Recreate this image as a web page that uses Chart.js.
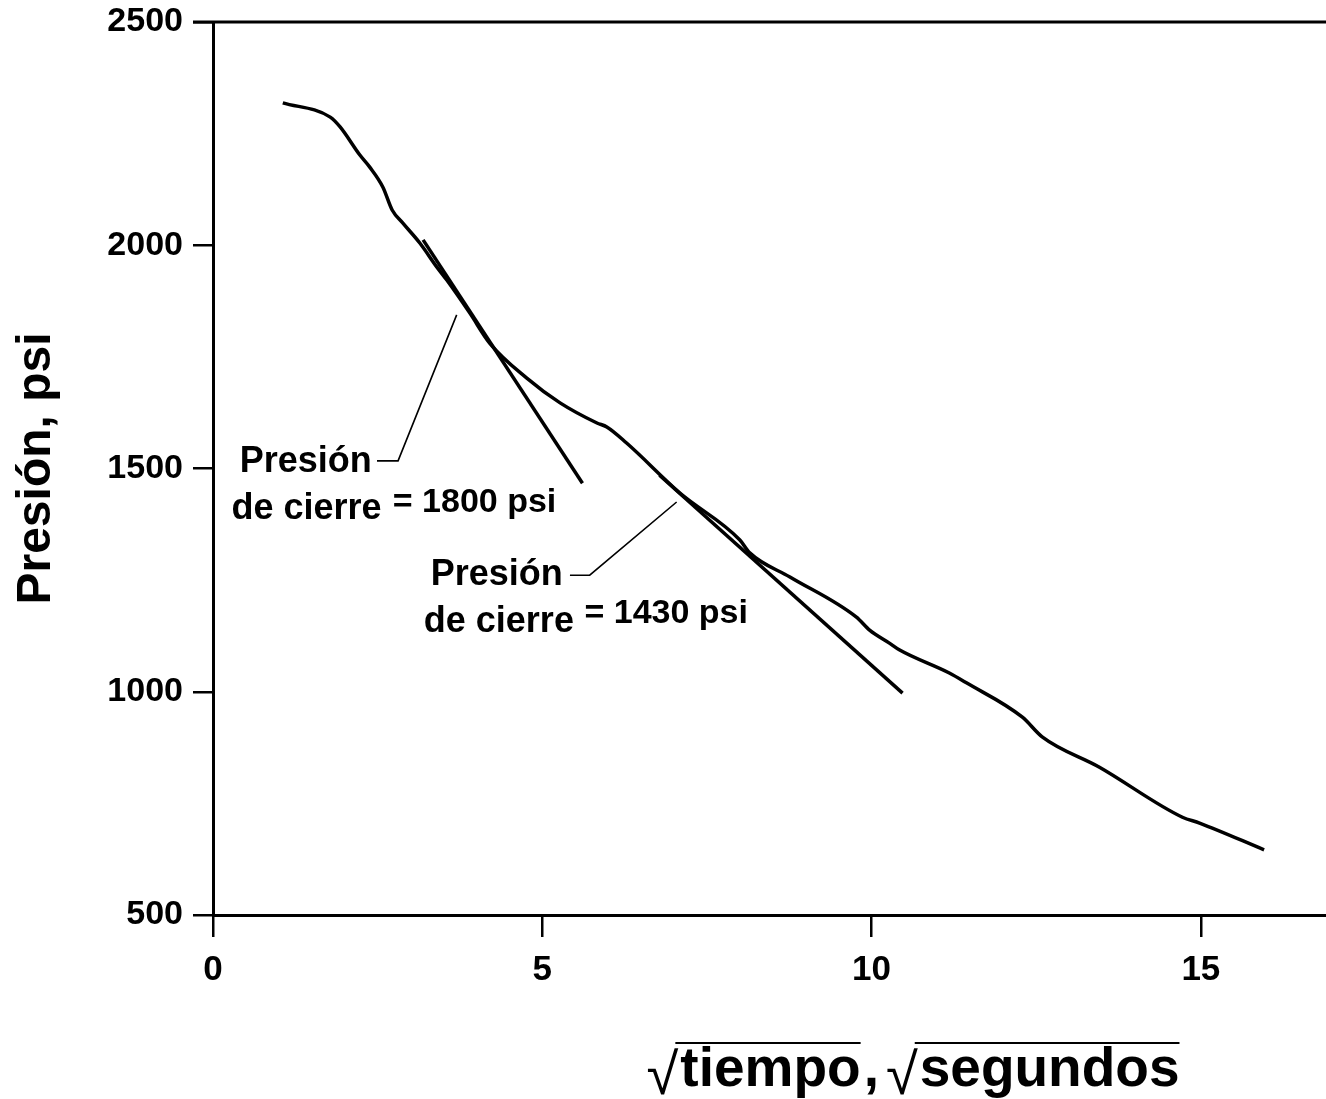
<!DOCTYPE html>
<html lang="es">
<head>
    <meta charset="UTF-8">
    <title>Presión vs raíz del tiempo</title>
    <script src="https://cdn.jsdelivr.net/npm/chart.js"></script>
    <style>
        body { margin: 0; background: #fff; }
        #wrap { width: 1326px; height: 1099px; }
    </style>
</head>
<body>
    <div id="wrap">
        <canvas id="pressureChart" width="1326" height="1099"></canvas>
    </div>

    <script>
        // curva medida: raiz del tiempo (s^0.5) vs presion (psi)
        const sqrtTime = [1.06, 1.78, 1.93, 2.23, 2.38, 2.58, 2.72, 2.88, 3.14, 3.40, 3.55, 3.90, 4.20, 4.76, 5.27, 5.83, 5.98, 6.28, 7.09, 8.00, 8.15, 8.76, 9.77, 9.97, 10.27, 10.42, 11.18, 11.44, 12.29, 12.59, 13.46, 14.72, 14.98, 15.96];
        const pressure = [2319, 2287, 2265, 2202, 2175, 2130, 2079, 2050, 2005, 1951, 1922, 1848, 1781, 1703, 1647, 1602, 1593, 1557, 1445, 1340, 1311, 1257, 1167, 1138, 1109, 1094, 1042, 1020, 943, 899, 831, 719, 706, 646];

        // rectas tangentes
        const tangent1X = [3.19, 5.61];
        const tangent1Y = [2012, 1467];
        const tangent2X = [6.78, 10.47];
        const tangent2Y = [1485, 997];

        // lineas guia de las anotaciones
        const leader1X = [3.70, 2.81, 2.49];
        const leader1Y = [1844, 1517, 1517];
        const leader2X = [7.04, 5.72, 5.42];
        const leader2Y = [1425, 1261, 1261];

        const xTicks = [0, 5, 10, 15];
        const yTicks = [500, 1000, 1500, 2000, 2500];

        const xTitleParts = ['tiempo', 'segundos'];
        const yTitle = 'Presión, psi';

        // anotaciones: texto, x, y (en unidades de datos)
        const noteText = ['Presión', 'de cierre', '= 1800 psi', 'Presión', 'de cierre', '= 1430 psi'];
        const noteX = [2.41, 2.56, 2.73, 5.31, 5.48, 5.64];
        const noteY = [1492, 1387, 1403, 1239, 1134, 1154];

        function toPoints(xs, ys) {
            return xs.map((x, i) => ({ x: x, y: ys[i] }));
        }

        const FONT = '"Liberation Sans", Arial, Helvetica, sans-serif';

        const extras = {
            id: 'extras',
            afterDraw(chart) {
                const ctx = chart.ctx;
                const xs = chart.scales.x;
                const ys = chart.scales.y;
                ctx.save();

                // linea superior del marco
                ctx.strokeStyle = '#000';
                ctx.lineWidth = 3;
                ctx.beginPath();
                ctx.moveTo(chart.chartArea.left - 20, ys.getPixelForValue(2500));
                ctx.lineTo(chart.width, ys.getPixelForValue(2500));
                ctx.stroke();

                // textos de anotacion
                ctx.fillStyle = '#000';
                ctx.textBaseline = 'alphabetic';
                noteText.forEach((t, i) => {
                    const isValue = t.charAt(0) === '=';
                    ctx.font = 'bold ' + (isValue ? 34 : 36) + 'px ' + FONT;
                    ctx.textAlign = isValue ? 'left' : 'right';
                    ctx.fillText(t, xs.getPixelForValue(noteX[i]), ys.getPixelForValue(noteY[i]));
                });

                // titulo del eje x con raices
                ctx.textAlign = 'left';
                const base = 1086;
                const wordFont = 'bold 55px ' + FONT;
                const rootFont = '58px ' + FONT;
                ctx.font = rootFont;
                const rootW = ctx.measureText('√').width;
                ctx.font = wordFont;
                const w1 = ctx.measureText(xTitleParts[0]).width;
                const wc = ctx.measureText(',').width + 12;
                const w2 = ctx.measureText(xTitleParts[1]).width;
                const total = rootW * 2 + w1 + wc + w2;
                let px = 912 - total / 2;
                const barY = 1043;
                ctx.lineWidth = 2;
                [0, 1].forEach(i => {
                    ctx.font = rootFont;
                    ctx.fillText('√', px, base + 8);
                    px += rootW;
                    ctx.font = wordFont;
                    const w = i === 0 ? w1 : w2;
                    ctx.beginPath();
                    ctx.moveTo(px - 3, barY);
                    ctx.lineTo(px + w + 2, barY);
                    ctx.stroke();
                    ctx.fillText(xTitleParts[i], px + 2, base);
                    px += w;
                    if (i === 0) {
                        ctx.fillText(',', px + 5, base);
                        px += wc;
                    }
                });
                ctx.restore();
            }
        };

        const lineStyle = { borderColor: '#000', pointRadius: 0, fill: false, showLine: true };

        const ctx = document.getElementById('pressureChart').getContext('2d');
        const pressureChart = new Chart(ctx, {
            type: 'scatter',
            data: {
                datasets: [
                    Object.assign({ label: 'Presión', data: toPoints(sqrtTime, pressure), borderWidth: 3.5, cubicInterpolationMode: 'monotone' }, lineStyle),
                    Object.assign({ label: 'Tangente 1', data: toPoints(tangent1X, tangent1Y), borderWidth: 3.5 }, lineStyle),
                    Object.assign({ label: 'Tangente 2', data: toPoints(tangent2X, tangent2Y), borderWidth: 3.5 }, lineStyle),
                    Object.assign({ label: 'Guía 1', data: toPoints(leader1X, leader1Y), borderWidth: 1.6 }, lineStyle),
                    Object.assign({ label: 'Guía 2', data: toPoints(leader2X, leader2Y), borderWidth: 1.6 }, lineStyle)
                ]
            },
            options: {
                responsive: false,
                animation: false,
                layout: { padding: { top: 22, right: 0, left: 0, bottom: 0 } },
                plugins: {
                    legend: { display: false },
                    tooltip: { enabled: false }
                },
                scales: {
                    x: {
                        type: 'linear',
                        min: 0,
                        max: 16.9,
                        afterBuildTicks: s => { s.ticks = xTicks.map(v => ({ value: v })); },
                        afterFit: s => { s.height = 184; s.paddingLeft = 0; s.paddingRight = 0; },
                        border: { color: '#000', width: 3 },
                        grid: { drawOnChartArea: false, drawTicks: true, tickLength: 22, color: '#000', lineWidth: 2.5 },
                        ticks: { color: '#000', padding: 12, maxRotation: 0, callback: v => String(v), font: { family: FONT, size: 35, weight: 'bold' } }
                    },
                    y: {
                        type: 'linear',
                        min: 500,
                        max: 2500,
                        afterBuildTicks: s => { s.ticks = yTicks.map(v => ({ value: v })); },
                        afterFit: s => { s.width = 213; s.paddingTop = 0; s.paddingBottom = 0; },
                        border: { color: '#000', width: 3 },
                        grid: { drawOnChartArea: false, drawTicks: true, tickLength: 20, color: '#000', lineWidth: 2.5 },
                        ticks: { color: '#000', padding: 10, callback: v => String(v), font: { family: FONT, size: 34, weight: 'bold' } },
                        title: {
                            display: true,
                            text: yTitle,
                            color: '#000',
                            padding: { top: 8, bottom: 0 },
                            font: { family: FONT, size: 48, weight: 'bold' }
                        }
                    }
                }
            },
            plugins: [extras]
        });
    </script>
</body>
</html>
